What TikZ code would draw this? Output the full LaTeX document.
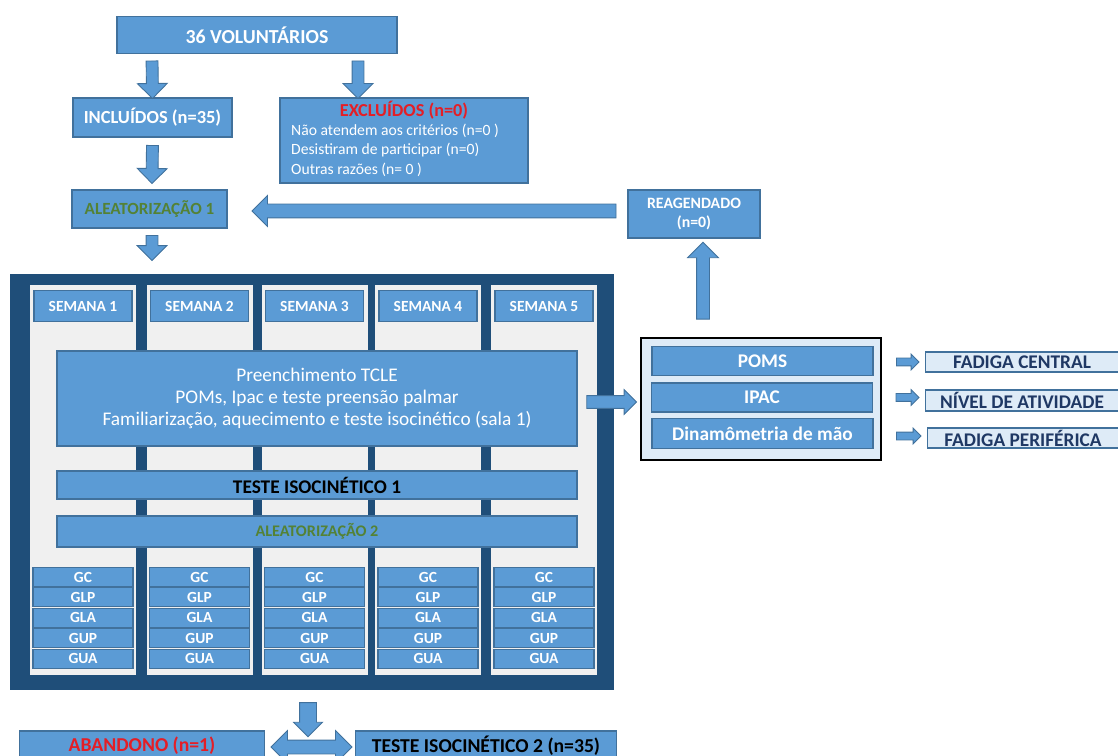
\documentclass[tikz,border=0pt]{standalone}
\usepackage{fontspec}
\setmainfont{Carlito}
\usetikzlibrary{shapes.arrows,calc}
\definecolor{boxblue}{HTML}{5B9BD5}
\definecolor{boxline}{HTML}{41719C}
\definecolor{frameblue}{HTML}{1F4E79}
\definecolor{colgray}{HTML}{F0F0F0}
\definecolor{greentxt}{HTML}{548235}
\definecolor{redtxt}{HTML}{E41E26}
\definecolor{navytxt}{HTML}{1F3864}
\definecolor{paleblue}{HTML}{DEEBF7}
\tikzset{
  wh/.style 2 args={minimum width=#1*0.02cm, minimum height=#2*0.02cm},
  bluebox/.style={draw=boxline, fill=boxblue, line width=0.6pt, inner sep=0pt, text=white, align=center},
  colbox/.style={fill=colgray, inner sep=0pt},
  tagbox/.style={draw=boxline, fill=paleblue, line width=0.6pt, inner sep=0pt, text=navytxt},
  txtbig/.style={font=\fontsize{11}{13}\selectfont\bfseries},
  txtmid/.style={font=\fontsize{9.7}{11.5}\selectfont\bfseries},
  txtsmall/.style={font=\fontsize{8.8}{10}\selectfont\bfseries},
  % block arrow laid between two points
  blk/.style n args={3}{to path={
    let \p1=(\tikztostart), \p2=(\tikztotarget), \p3=($(\p1)!0.5!(\p2)$),
        \n1={veclen(\x2-\x1,\y2-\y1)}, \n2={atan2(\y2-\y1,\x2-\x1)} in
    node[#1, draw=boxline, fill=boxblue, line width=0.5pt, inner xsep=0pt, inner ysep=#2,
         single arrow head extend=#3, double arrow head extend=#3,
         minimum height=\n1, rotate=\n2, anchor=center] at (\p3) {}}},
  downarr/.style={blk={single arrow}{0.11cm}{0.18cm}},
  tinyarr/.style={blk={single arrow}{0.07cm}{0.077cm}},
}
\begin{document}
\begin{tikzpicture}[x=0.02cm, y=-0.02cm]
\useasboundingbox (0,0) rectangle (1118,756);
\clip (0,0) rectangle (1118,756);

% top of the flow
\node[bluebox, font=\fontsize{11.3}{13}\selectfont\bfseries, wh={280}{37}] (vol) at (257,35) {36 VOLUNTÁRIOS};
\node[bluebox, font=\fontsize{10.5}{12}\selectfont\bfseries, wh={159}{39}] (inc) at (152.5,117.5) {INCLUÍDOS (n=35)};
\node[bluebox, wh={248}{85}, font=\fontsize{8.9}{11}\selectfont] (exc) at (404,140.5)
  {{\fontsize{10.4}{11}\selectfont\bfseries\color{redtxt}EXCLUÍDOS (n=0)}\\
   \hspace*{-0.36cm}\begin{tabular}[t]{@{}l@{}}Não atendem aos critérios (n=0 )\\ Desistiram de participar (n=0)\\ Outras razões (n= 0 )\end{tabular}};
\node[bluebox, txtmid, text=greentxt, wh={155}{38}] (alea1) at (149.5,209) {ALEATORIZAÇÃO 1};
\node[bluebox, font=\fontsize{9}{11.3}\selectfont\bfseries, wh={132}{48}] (reag) at (694,214) {REAGENDADO\\(n=0)};

% weeks
\node[fill=frameblue, inner sep=0pt, wh={604}{416}] (frame) at (312,482) {};
\foreach \cx [count=\i] in {83,199.5,314.5,428,544}
{
  \node[colbox, wh={106}{390}] (col\i) at (\cx,480) {};
  \node[bluebox, txtsmall, wh={98}{31}] (sem\i) at (\cx,306) {SEMANA \i};
  \foreach \g [count=\r] in {GC,GLP,GLA,GUP,GUA}
    \node[bluebox, txtsmall, wh={100}{19}] (\g\i) at (\cx,{577+(\r-1)*20.4}) {\g};
}
\node[bluebox, wh={520}{95}, font=\fontsize{11}{12.5}\selectfont] (tcle) at (317,398.5)
  {Preenchimento TCLE\\ POMs, Ipac e teste preensão palmar\\ Familiarização, aquecimento e teste isocinético (sala 1)};
\node[bluebox, txtbig, text=black, wh={520}{28}] (iso1) at (317,485) {TESTE ISOCINÉTICO 1};
\node[bluebox, font=\fontsize{9.2}{11}\selectfont\bfseries, text=greentxt, wh={520}{31}] (alea2) at (317,531.5) {ALEATORIZAÇÃO 2};

% measures
\node[draw=black, fill=paleblue, line width=0.8pt, inner sep=0pt, wh={240}{122}] (rbox) at (761,399) {};
\node[bluebox, txtbig, wh={221}{29}] (poms) at (762.5,361) {POMS};
\node[bluebox, txtbig, wh={221}{29}] (ipac) at (762,397.5) {IPAC};
\node[bluebox, txtbig, wh={221}{30}] (dina) at (762.5,433.5) {Dinamômetria de mão};
\node[tagbox, txtbig, wh={193}{20}] (lab1) at (1022,362) {FADIGA CENTRAL};
\node[tagbox, txtbig, wh={193}{21}] (lab2) at (1022,400.5) {NÍVEL DE ATIVIDADE};
\node[tagbox, txtbig, wh={191}{20}] (lab3) at (1023,438) {FADIGA PERIFÉRICA};

% end
\node[bluebox, font=\fontsize{11.2}{13}\selectfont\bfseries, text=redtxt, wh={245}{30}] (aba) at (142,746) {ABANDONO (n=1)};
\node[bluebox, font=\fontsize{11.2}{13}\selectfont\bfseries, text=black, wh={261}{30}] (tst2) at (486,746) {TESTE ISOCINÉTICO 2 (n=35)};

% arrows
\path ($(vol.south)+(-105,4)$) to[downarr] ($(inc.north)+(0,-2)$);
\path ($(vol.south)+(101,4)$) to[downarr] ($(exc.north)+(-46,-2)$);
\path ($(inc.south)+(0,5)$) to[downarr] ($(alea1.north)+(2.5,-9)$);
\path ($(alea1.south)+(2.5,4)$) to[downarr] ($(frame.north)+(-160,-16)$);
\path ($(reag.west)+(-8,-3)$) to[blk={single arrow}{0.13cm}{0.17cm}] ($(alea1.east)+(28,2)$);
\path ($(rbox.north)+(-58,-15)$) to[blk={single arrow}{0.12cm}{0.18cm}] ($(reag.south)+(9,7)$);
\path ($(tcle.east)+(6,3.5)$) to[blk={single arrow}{0.12cm}{0.12cm}] ($(rbox.west)+(-7,3)$);
\path ($(poms.east)+(21,1)$) to[tinyarr] ($(poms.east -| lab1.west)+(-8,1)$);
\path ($(ipac.east)+(21,0)$) to[tinyarr] ($(ipac.east -| lab2.west)+(-8,0)$);
\path ($(dina.east)+(21,2.5)$) to[tinyarr] ($(dina.east -| lab3.west)+(-8,2.5)$);
\path ($(frame.south)+(-4,8)$) to[blk={single arrow}{0.16cm}{0.12cm}] ($(aba.north east)!0.5!(tst2.north west)+(-2,2)$);
\path ($(aba.east)+(6,1)$) to[blk={double arrow}{0.13cm}{0.19cm}] ($(tst2.west)+(-3,1)$);
\end{tikzpicture}
\end{document}
